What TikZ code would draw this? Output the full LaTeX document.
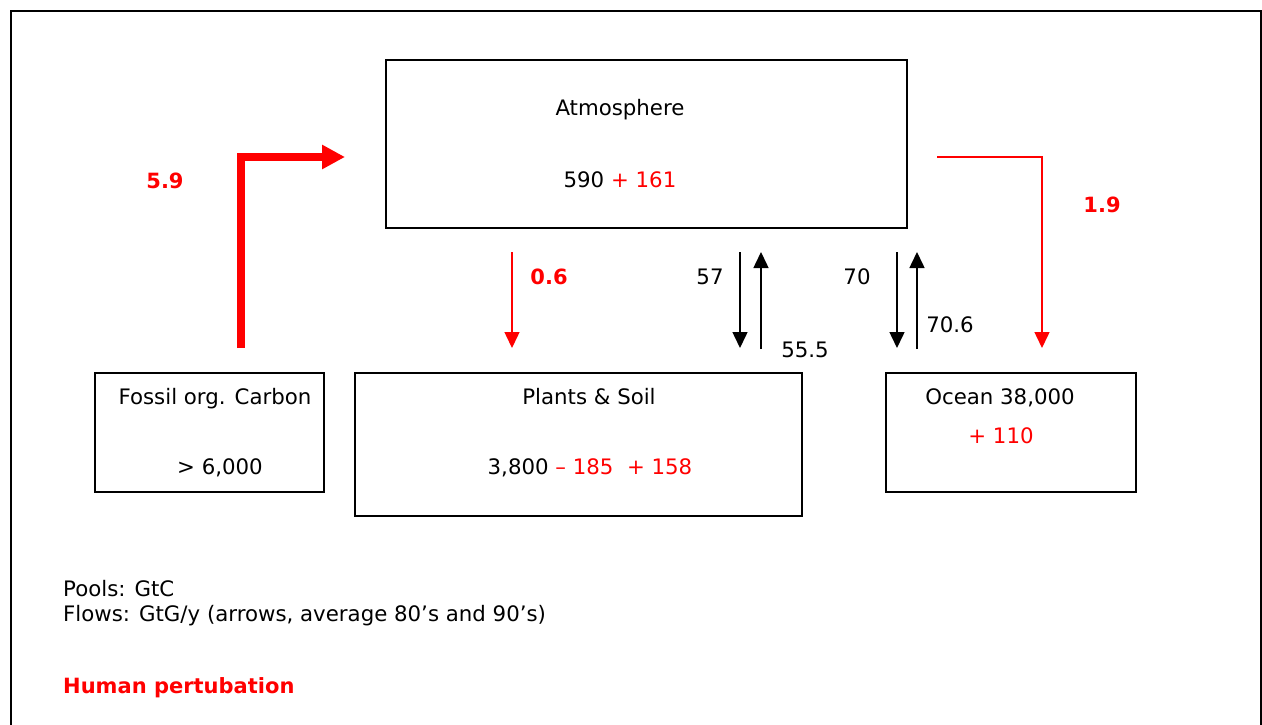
\documentclass[tikz,border=0pt]{standalone}
\usepackage{fontspec}
\setmainfont{DejaVu Sans}
\usetikzlibrary{arrows.meta}
\definecolor{hred}{RGB}{255,0,0}
\begin{document}
\begin{tikzpicture}[x=1pt,y=-1pt,
  every node/.style={inner sep=0pt,font=\fontsize{21.3}{24}\selectfont},
  pool/.style={draw,line width=1.8pt},
  lbl/.style={anchor=base},
  rlbl/.style={anchor=base,text=hred,font=\fontsize{21}{24}\selectfont\bfseries},
  flow/.style={line width=1.5pt,-{Triangle[width=15pt,length=16pt]}},
  hflow/.style={flow,draw=hred},
  bigflow/.style={draw=hred,line width=8pt,-{Triangle[width=23pt,length=23pt]}}]
\useasboundingbox (0,0) rectangle (1262,725);
\fill[white] (0,0) rectangle (1262,725);
\begin{scope}
\clip (0,0) rectangle (1262,725);
\draw[line width=1.8pt] (11,11) rectangle (1261,740);
\end{scope}
% pools
\node[pool,minimum width=521pt,minimum height=168pt] (atm) at (646.5,144) {};
\node[pool,minimum width=229pt,minimum height=119pt] (fos) at (209.5,432.5) {};
\node[pool,minimum width=447pt,minimum height=143pt] (pla) at (578.5,444.5) {};
\node[pool,minimum width=250pt,minimum height=119pt] (oce) at (1011,432.5) {};
% pool texts
\node[lbl] (atmt) at (620,115) {Atmosphere};
\node[lbl] (atmv) at (620,187) {590 \textcolor{hred}{+ 161}};
\node[lbl] (fost) at (215,404) {Fossil org. Carbon};
\node[lbl] (fosv) at (220,474) {> 6,000};
\node[lbl] (plat) at (589,404) {Plants \& Soil};
\node[lbl] (plav) at (590,474) {3,800 \textcolor{hred}{– 185 \ + 158}};
\node[lbl] (ocet) at (1000,404) {Ocean 38,000};
\node[lbl,text=hred] (ocev) at (1001,443) {+ 110};
% flow end points
\coordinate (f1) at (241,348);
\coordinate (f2) at (241,157);
\coordinate (f3) at (345,157);
\coordinate (a1) at (512,252);
\coordinate (a2) at (512,348);
\coordinate (b1) at (740,252);
\coordinate (b2) at (740,348);
\coordinate (c1) at (761,349);
\coordinate (c2) at (761,252);
\coordinate (d1) at (897,252);
\coordinate (d2) at (897,348);
\coordinate (e1) at (917,349);
\coordinate (e2) at (917,252);
\coordinate (g1) at (937,157);
\coordinate (g2) at (1042,157);
\coordinate (g3) at (1042,348);
% flows
\draw[bigflow] (f1) -- (f2) -- (f3);
\draw[hflow] (a1) -- (a2);
\draw[flow] (b1) -- (b2);
\draw[flow] (c1) -- (c2);
\draw[flow] (d1) -- (d2);
\draw[flow] (e1) -- (e2);
\draw[hflow] (g1) -- (g2) -- (g3);
% flow labels
\node[rlbl] (l59) at (165,188) {5.9};
\node[rlbl] (l06) at (549,284) {0.6};
\node[rlbl] (l19) at (1102,212) {1.9};
\node[lbl] (l57) at (710,284) {57};
\node[lbl] (l555) at (805,357) {55.5};
\node[lbl] (l70) at (857,284) {70};
\node[lbl] (l706) at (950,332) {70.6};
% legend
\node[anchor=base west] (leg1) at (63,596) {Pools: GtC};
\node[anchor=base west] (leg2) at (63,621) {Flows: GtG/y (arrows, average 80’s and 90’s)};
\node[anchor=base west,text=hred,font=\fontsize{21}{24}\selectfont\bfseries] (leg3) at (63,693) {Human pertubation};
\end{tikzpicture}
\end{document}
